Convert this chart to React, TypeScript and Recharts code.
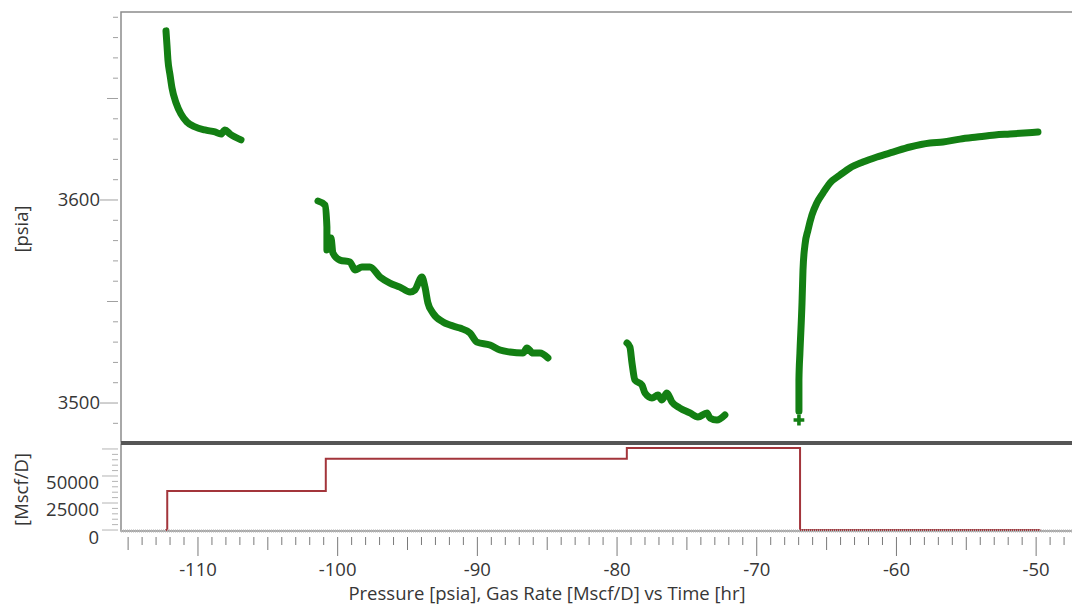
import { ComposedChart, Line, Scatter, XAxis, YAxis, ReferenceArea, ReferenceLine, Label } from 'recharts';

// pressure segments: [time hr, pressure psia]
const pressureSeg1: [number, number][] = [
  [-112.29, 3683.3], [-112.22, 3676.4], [-112.15, 3669.0], [-112.0, 3661.6], [-111.86, 3655.2],
  [-111.57, 3647.8], [-111.22, 3642.4], [-110.79, 3638.4], [-110.21, 3636.0], [-109.5, 3634.5],
  [-108.78, 3633.5], [-108.35, 3632.5], [-108.07, 3634.5], [-107.71, 3632.5], [-106.92, 3629.6],
];
const pressureSeg2: [number, number][] = [
  [-101.41, 3599.5], [-100.91, 3597.5], [-100.77, 3586.7], [-100.77, 3575.4], [-100.48, 3581.3],
  [-100.34, 3573.9], [-99.84, 3570.4], [-99.12, 3569.5], [-98.76, 3565.5], [-98.26, 3567.0],
  [-97.69, 3567.0], [-96.97, 3562.1], [-96.26, 3559.1], [-95.54, 3557.1], [-94.82, 3554.7],
  [-94.47, 3555.7], [-93.97, 3562.1], [-93.75, 3557.1], [-93.54, 3549.3], [-93.18, 3544.3],
  [-92.46, 3539.9], [-91.96, 3538.4], [-91.25, 3536.9], [-90.53, 3534.5], [-90.03, 3530.0],
  [-89.1, 3528.6], [-88.38, 3526.1], [-87.67, 3525.1], [-86.74, 3524.6], [-86.45, 3527.1],
  [-86.02, 3524.6], [-85.52, 3524.6], [-84.95, 3522.2],
];
const pressureSeg3: [number, number][] = [
  [-79.29, 3529.6], [-79.08, 3527.6], [-78.93, 3519.7], [-78.72, 3511.3], [-78.22, 3508.9],
  [-78.0, 3504.9], [-77.5, 3502.5], [-77.07, 3503.9], [-76.79, 3501.5], [-76.43, 3504.9],
  [-76.07, 3500.5], [-75.5, 3497.5], [-74.78, 3495.1], [-74.21, 3493.1], [-73.56, 3495.1],
  [-73.35, 3492.6], [-72.85, 3491.6], [-72.28, 3494.1],
];
const pressureSeg4: [number, number][] = [
  [-66.98, 3496.0], [-66.98, 3511.3], [-66.91, 3524.6], [-66.76, 3549.3], [-66.69, 3565.5],
  [-66.55, 3577.8], [-66.33, 3585.2], [-66.05, 3592.6], [-65.7, 3598.5], [-65.26, 3603.4],
  [-64.76, 3608.4], [-64.04, 3612.3], [-63.33, 3615.8], [-62.4, 3618.7], [-61.4, 3621.2],
  [-60.25, 3623.6], [-59.03, 3626.1], [-57.6, 3628.1], [-56.67, 3628.6], [-55.45, 3630.0],
  [-54.24, 3631.0], [-52.95, 3632.0], [-51.88, 3632.5], [-49.87, 3633.5],
];
const strayPoint: [number, number][] = [[-66.98, 3491.6]];

// gas rate steps: [time hr, rate Mscf/D]
const rateSteps: [number, number][] = [
  [-112.35, 0], [-112.2, 36000], [-100.85, 66000], [-79.3, 76000], [-66.9, 0], [-49.7, 0],
];

const timeTicks = Array.from({ length: 68 }, (_, i) => -115 + i);
const psiTicks = Array.from({ length: 21 }, (_, i) => 3490 + i * 10);
const rateTicks = Array.from({ length: 16 }, (_, i) => i * 5000);

const X_DOMAIN: [number, number] = [-115.51, -46.86];
const PSI_DOMAIN: [number, number] = [3480.8, 3692.6];
const RATE_DOMAIN: [number, number] = [-900, 79600];

const GREEN = '#137f13';
const RED = '#a3353b';
const TEXT = '#363636';
const FONT = '"Open Sans", "Noto Sans", sans-serif';
const FS = 18.5;

const toPts = (seg: [number, number][]) => seg.map(([t, p]) => ({ t, p }));

function PsiTick(props: any) {
  const { x, y, payload } = props;
  const v = Math.round(payload.value);
  const len = v % 100 === 0 ? 18 : v % 50 === 0 ? 11 : 5;
  return (
    <g>
      <line x1={x - 3 - len} x2={x - 3} y1={y} y2={y} stroke="#a0a0a0" />
      {v % 100 === 0 && (
        <text x={x - 21} y={y} dy="0.35em" textAnchor="end" fontSize={FS} fontFamily={FONT} fill={TEXT}>
          {v}
        </text>
      )}
    </g>
  );
}

function RateTick(props: any) {
  const { x, y, payload } = props;
  const v = Math.round(payload.value);
  const major = v % 25000 === 0;
  const len = major ? 16 : 6;
  return (
    <g>
      <line x1={x - 3 - len} x2={x - 3} y1={y} y2={y} stroke="#b4b4b4" />
      {major && v <= 50000 && (
        <text x={x - 22} y={y + 7} dy="0.35em" textAnchor="end" fontSize={FS} fontFamily={FONT} fill={TEXT}>
          {v}
        </text>
      )}
    </g>
  );
}

function TimeTick(props: any) {
  const { x, y, payload } = props;
  const v = Math.round(payload.value);
  const len = v % 10 === 0 ? 19 : v % 5 === 0 ? 13 : 8;
  return (
    <g>
      <line x1={x} x2={x} y1={y + 6} y2={y + 6 + len} stroke="#7a7a7a" />
      {v % 10 === 0 && (
        <text x={x} y={y + 39} dy="0.35em" textAnchor="middle" fontSize={FS} fontFamily={FONT} fill={TEXT}>
          {v}
        </text>
      )}
    </g>
  );
}

const sideLabel = (text: string) => (props: any) => {
  const vb = props.viewBox;
  const cx = 22;
  const cy = vb.y + vb.height / 2 + 2;
  return (
    <text x={cx} y={cy} dy="0.35em" textAnchor="middle" transform={`rotate(-90 ${cx} ${cy})`}
      fontSize={FS} fontFamily={FONT} fill={TEXT}>
      {text}
    </text>
  );
};

// bottom chart is placed at top 443, so this sits at ~594 on the page
const xTitle = () => (
  <text x={547} y={151} dy="0.35em" textAnchor="middle" fontSize={FS} fontFamily={FONT} fill={TEXT}>
    Pressure [psia], Gas Rate [Mscf/D] vs Time [hr]
  </text>
);

export default function App() {
  const rateData = rateSteps.map(([t, r]) => ({ t, r }));
  return (
    <div style={{ position: 'absolute', left: 0, top: 0, width: 1072, height: 604, overflow: 'hidden', background: '#fff' }}>
      <div style={{ position: 'absolute', left: 0, top: 0 }}>
        <ComposedChart width={1080} height={443} margin={{ top: 12, right: 0, bottom: 1, left: 0 }}>
          <XAxis dataKey="t" type="number" domain={X_DOMAIN} allowDataOverflow hide />
          <YAxis type="number" domain={PSI_DOMAIN} allowDataOverflow ticks={psiTicks} interval={0}
            width={121} tickSize={0} tickMargin={0} axisLine={false} tick={<PsiTick />}>
            <Label content={sideLabel('[psia]')} />
          </YAxis>
          <ReferenceArea x1={X_DOMAIN[0]} x2={X_DOMAIN[1]} y1={PSI_DOMAIN[0]} y2={PSI_DOMAIN[1]}
            fill="none" stroke="#8c8c8c" strokeWidth={1.5} />
          <ReferenceLine y={PSI_DOMAIN[0]} stroke="#555" strokeWidth={2} />
          {[pressureSeg1, pressureSeg2, pressureSeg3, pressureSeg4].map((seg, i) => (
            <Line key={i} data={toPts(seg)} dataKey="p" type="monotone" stroke={GREEN} strokeWidth={7}
              strokeLinejoin="round" strokeLinecap="round" dot={false} isAnimationActive={false} />
          ))}
          <Scatter data={toPts(strayPoint)} dataKey="p" fill={GREEN} shape="cross" isAnimationActive={false} />
        </ComposedChart>
      </div>
      <div style={{ position: 'absolute', left: 0, top: 443 }}>
        <ComposedChart width={1080} height={161} data={rateData} margin={{ top: 1, right: 0, bottom: 0, left: 0 }}>
          <XAxis dataKey="t" type="number" domain={X_DOMAIN} allowDataOverflow ticks={timeTicks} interval={0}
            height={73} tickSize={0} tickMargin={0}
            axisLine={{ stroke: '#b4b4b4', strokeWidth: 3, strokeDasharray: '1 1' }} tick={<TimeTick />}>
            <Label content={xTitle} />
          </XAxis>
          <YAxis type="number" domain={RATE_DOMAIN} allowDataOverflow ticks={rateTicks} interval={0}
            width={121} tickSize={0} tickMargin={0} axisLine={false} tick={<RateTick />}>
            <Label content={sideLabel('[Mscf/D]')} />
          </YAxis>
          <ReferenceArea x1={X_DOMAIN[0]} x2={X_DOMAIN[1]} y1={RATE_DOMAIN[0]} y2={RATE_DOMAIN[1]}
            fill="none" stroke="#8c8c8c" strokeWidth={1.5} />
          <ReferenceLine y={RATE_DOMAIN[1]} stroke="#555" strokeWidth={2} />
          <Line dataKey="r" type="stepAfter" stroke={RED} strokeWidth={2} dot={false} isAnimationActive={false} />
        </ComposedChart>
      </div>
    </div>
  );
}
